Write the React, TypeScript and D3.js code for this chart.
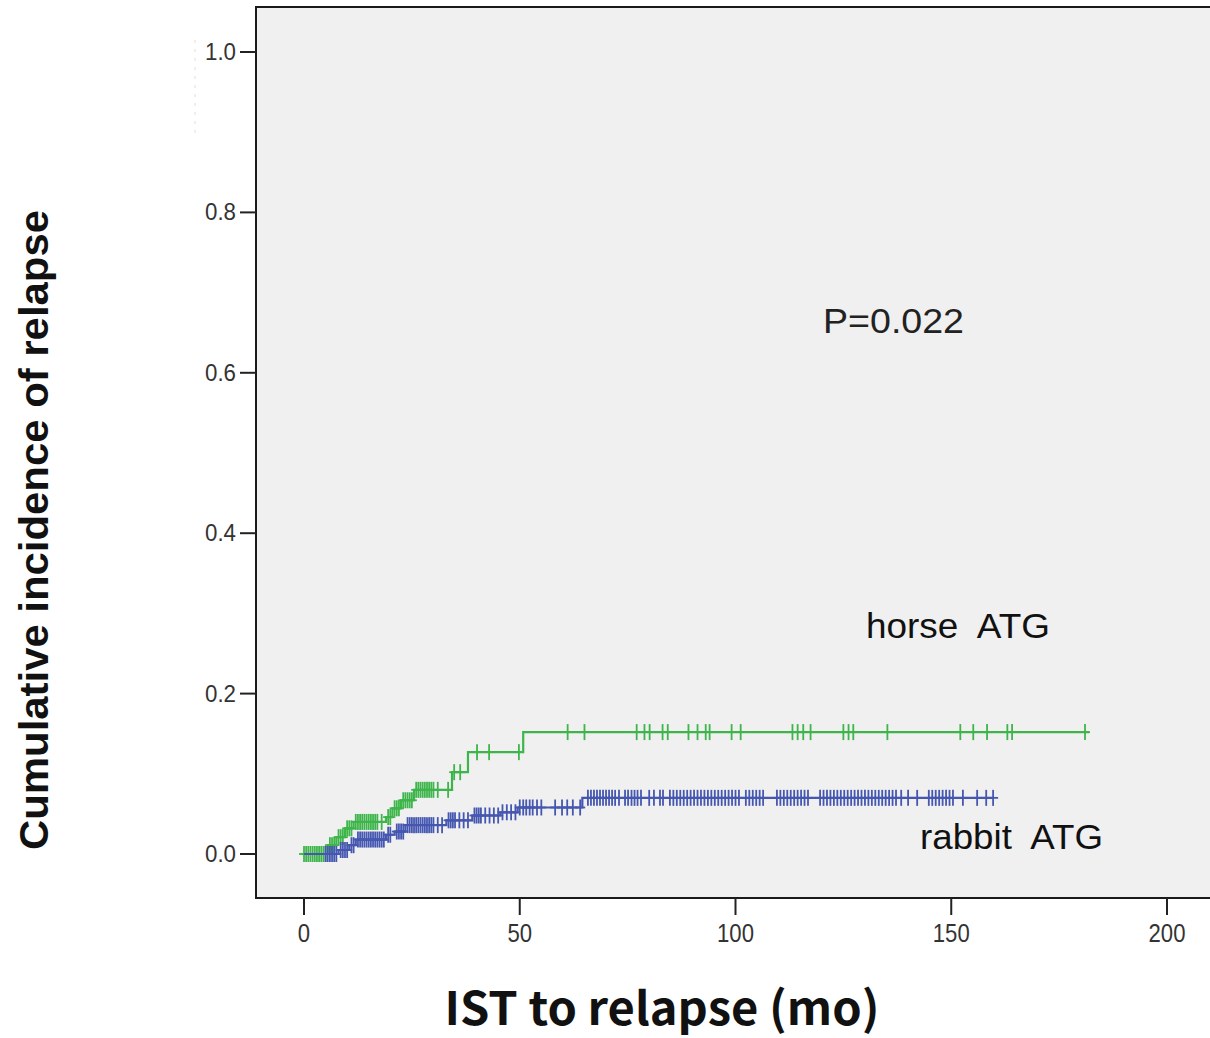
import React from "react";
import * as d3 from "d3";

const W = 1210;
const H = 1038;

const xTicks = [0, 50, 100, 150, 200];
const yTicks = [0, 0.2, 0.4, 0.6, 0.8, 1.0];

// step curves: [time (months), cumulative incidence]
const horseSteps: [number, number][] = [
  [0, 0], [5.5, 0.011], [7.5, 0.021], [9.5, 0.032], [11.5, 0.04], [19, 0.046],
  [20.5, 0.057], [22.5, 0.067], [25.5, 0.08], [34.3, 0.102], [38, 0.127], [50.8, 0.152],
];
const horseEnd = 182;
const horseCensor = [
  0, 0.5, 1, 1.5, 2, 2.5, 3, 3.5, 4, 4.5, 5, 6, 6.5, 7, 8, 8.5, 9, 10, 10.5, 11,
  12, 12.5, 13, 13.5, 14, 14.5, 15, 15.5, 16, 16.5, 17, 18, 19.5, 20, 21, 21.5, 22,
  23, 23.5, 24, 24.5, 25, 26, 26.5, 27, 27.5, 28, 28.5, 29, 29.5, 30, 31, 33.4,
  34.8, 36.2, 40.1, 42.9, 49.8, 61.1, 65.0, 77.1, 78.9, 80.1, 83.1, 84.3, 89.1,
  91.2, 93.1, 94.0, 99.1, 101.2, 113.2, 114.4, 115.7, 117.4, 125.0, 126.2, 127.3,
  135.2, 152.1, 155.1, 158.3, 163.0, 164.1, 181.0,
];

const rabbitSteps: [number, number][] = [
  [0, 0], [8, 0.005], [10.5, 0.011], [12, 0.018], [19, 0.024], [21, 0.028],
  [23.5, 0.036], [33, 0.042], [39, 0.048], [45.5, 0.052], [49.5, 0.058], [64.5, 0.07],
];
const rabbitEnd = 159.7;
const rabbitCensor = [
  5, 5.5, 6, 6.5, 7, 7.5, 8.5, 9, 9.5, 10, 11, 11.5, 12.5, 13, 13.5, 14, 14.5, 15,
  15.5, 16, 16.5, 17, 17.5, 18, 18.5, 19.5, 20, 21.5, 22, 22.5, 23, 24, 24.5, 25,
  25.5, 26, 26.5, 27, 27.5, 28, 28.5, 29, 29.5, 30, 31, 32, 33.5, 34, 34.5, 35, 36,
  37, 38, 39.5, 40, 40.5, 41, 42, 43, 44, 45, 46, 47, 48, 49, 50, 50.8, 51.5, 52.3,
  53, 54, 55, 58.2, 59.8, 61, 62.3, 64, 65.8, 66.5, 67.2, 67.9, 68.6, 69.3, 70.0,
  70.7, 71.4, 72.1, 73.0, 74.4, 75.1, 75.9, 76.6, 77.3, 78.1, 80.0, 81.1, 82.5,
  83.2, 84.8, 85.6, 86.4, 87.2, 88.0, 88.8, 89.6, 90.4, 91.2, 92.0, 92.8, 93.6,
  94.4, 95.2, 96.0, 96.8, 97.6, 98.4, 99.2, 100.0, 100.8, 102.4, 103.2, 104.0,
  104.8, 105.6, 106.4, 109.6, 110.4, 111.2, 112.0, 112.8, 113.6, 114.4, 115.2,
  116.0, 116.8, 119.6, 120.4, 121.2, 122.0, 122.8, 123.6, 124.4, 125.2, 126.0,
  126.8, 127.6, 128.4, 129.2, 130.0, 130.8, 131.6, 132.4, 133.2, 134.0, 134.8,
  135.6, 136.4, 137.2, 138.4, 140.0, 142.1, 144.8, 145.6, 146.4, 147.2, 148.0,
  148.8, 149.6, 150.4, 152.7, 156.0, 158.1, 159.7,
];

const GREEN = "#3db54a";
const BLUE = "#4557b0";

const x = d3.scaleLinear().domain([0, 200]).range([304, 1167]);
const y = d3.scaleLinear().domain([0, 1]).range([854, 52]);

function valueAt(steps: [number, number][], t: number) {
  let v = 0;
  for (const [st, sv] of steps) if (st <= t) v = sv;
  return v;
}

function Curve({ steps, end, censor, color }: { steps: [number, number][]; end: number; censor: number[]; color: string }) {
  const pts: [number, number][] = [...steps, [end, steps[steps.length - 1][1]]];
  const line = d3.line<[number, number]>().x((d) => x(d[0])).y((d) => y(d[1])).curve(d3.curveStepAfter);
  return (
    <g>
      <path d={line(pts) || ""} fill="none" stroke={color} strokeWidth={2.2} />
      {censor.map((t, i) => {
        const cx = x(t);
        const cy = y(valueAt(steps, t));
        return (
          <g key={i} stroke={color} strokeWidth={1.8}>
            <line x1={cx} x2={cx} y1={cy - 8} y2={cy + 8} />
            <line x1={cx - 5} x2={cx + 5} y1={cy} y2={cy} />
          </g>
        );
      })}
    </g>
  );
}

export default function App() {
  const tickFont = "'Liberation Sans Narrow', 'Liberation Sans', Arial, sans-serif";
  const sans = "'Liberation Sans', Arial, sans-serif";
  return (
    <svg width={W} height={H} style={{ position: "absolute", left: 0, top: 0, background: "#fff" }}>
      <line x1={195} x2={195} y1={40} y2={135} stroke="#ddd" strokeDasharray="3,6" />
      <rect x={256} y={7} width={1000} height={891} fill="#f0f0f0" stroke="#1a1a1a" strokeWidth={2} />
      {yTicks.map((t) => (
        <g key={"y" + t}>
          <line x1={240} x2={256} y1={y(t)} y2={y(t)} stroke="#222" strokeWidth={2} />
          <text x={236} y={y(t) + 8} textAnchor="end" fontSize={23} fill="#333" fontFamily={tickFont} textLength={31} lengthAdjust="spacingAndGlyphs">
            {t.toFixed(1)}
          </text>
        </g>
      ))}
      {xTicks.map((t) => (
        <g key={"x" + t}>
          <line x1={x(t)} x2={x(t)} y1={898} y2={915} stroke="#222" strokeWidth={2} />
          <text x={x(t)} y={942} textAnchor="middle" fontSize={26} fill="#333" fontFamily={tickFont} textLength={String(t).length * 12.3} lengthAdjust="spacingAndGlyphs">
            {t}
          </text>
        </g>
      ))}
      <Curve steps={horseSteps} end={horseEnd} censor={horseCensor} color={GREEN} />
      <Curve steps={rabbitSteps} end={rabbitEnd} censor={rabbitCensor} color={BLUE} />
      <text x={823} y={333} fontSize={35} fill="#222" fontFamily={sans} textLength={141} lengthAdjust="spacingAndGlyphs">
        P=0.022
      </text>
      <text x={866} y={638} fontSize={35} fill="#111" fontFamily={sans} textLength={184} lengthAdjust="spacingAndGlyphs" style={{ whiteSpace: "pre" }}>
        {"horse  ATG"}
      </text>
      <text x={920} y={849} fontSize={35} fill="#111" fontFamily={sans} textLength={183} lengthAdjust="spacingAndGlyphs" style={{ whiteSpace: "pre" }}>
        {"rabbit  ATG"}
      </text>
      <text
        transform="translate(48,530) rotate(-90)"
        textAnchor="middle"
        fontSize={40}
        fontWeight="bold"
        fill="#111"
        fontFamily={sans}
        textLength={640}
        lengthAdjust="spacingAndGlyphs"
      >
        Cumulative incidence of relapse
      </text>
      <text x={662} y={1025} textAnchor="middle" fontSize={46} fontWeight="bold" fill="#111" fontFamily="'Noto Sans CJK JP', 'Liberation Sans', sans-serif" textLength={435} lengthAdjust="spacingAndGlyphs">
        IST to relapse (mo)
      </text>
    </svg>
  );
}
